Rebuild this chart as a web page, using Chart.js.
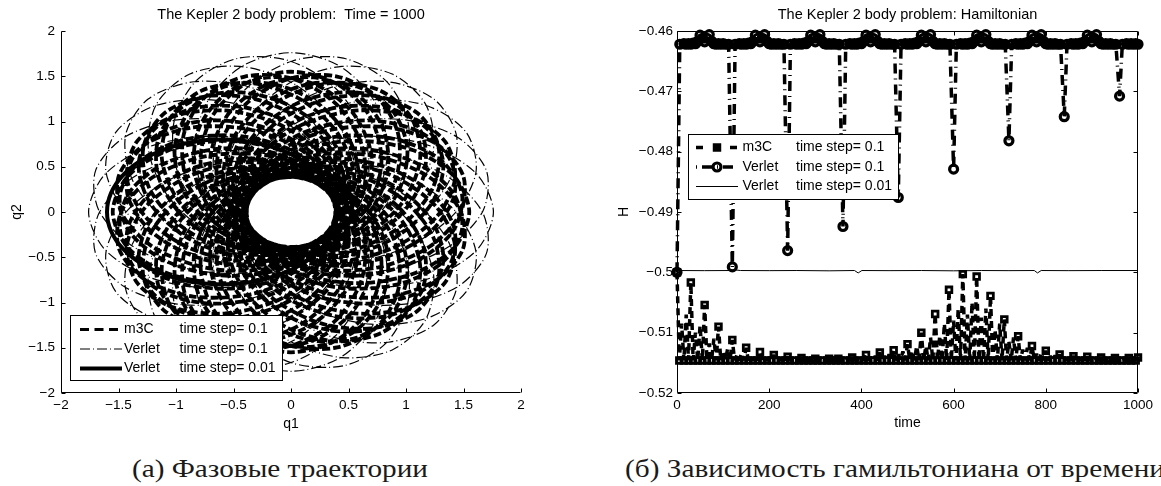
<!DOCTYPE html>
<html><head><meta charset="utf-8">
<script src="https://cdn.jsdelivr.net/npm/chart.js@4.4.1/dist/chart.umd.min.js"></script>
<style>
html,body{margin:0;padding:0;background:#fff;width:1161px;height:486px;overflow:hidden;}
#wrap{position:relative;width:1161px;height:486px;overflow:hidden;}
#cA{position:absolute;left:0;top:0;}
#cB{position:absolute;left:600px;top:0;}
.cap{position:absolute;top:456px;font-family:"Liberation Serif","Times New Roman",serif;font-size:25px;line-height:26px;white-space:nowrap;color:#1a1a1a;transform-origin:0 0;}
#capA{left:132px;}
#capB{left:625px;}
</style></head><body>
<div id="wrap">
<canvas id="cA" width="582" height="440" style="width:582px;height:440px"></canvas>
<canvas id="cB" width="615" height="440" style="width:615px;height:440px"></canvas>
<div class="cap" id="capA">(a) Фазовые траектории</div>
<div class="cap" id="capB">(б) Зависимость гамильтониана от времени</div>
</div>
<script>
// ---------- tick values / labels ----------
const qTicks = [-2,-1.5,-1,-0.5,0,0.5,1,1.5,2];
const qTickLabels = ['−2','−1.5','−1','−0.5','0','0.5','1','1.5','2'];
const timeTicks = [0,200,400,600,800,1000];
const timeTickLabels = ['0','200','400','600','800','1000'];
const hTicks = [-0.52,-0.51,-0.5,-0.49,-0.48,-0.47,-0.46];
const hTickLabels = ['−0.52','−0.51','−0.5','−0.49','−0.48','−0.47','−0.46'];

// ---------- legend texts ----------
const legendNames = ['m3C','Verlet','Verlet'];
const legendSteps = ['time step= 0.1','time step= 0.1','time step= 0.01'];

// ---------- left panel: phase trajectories (q1, q2) ----------
const verletFineOrbit = [
[0.400,0],[0.366,0.207],[0.266,0.400],[0.107,0.566],[-0.100,0.693],[-0.341,0.773],[-0.600,0.800],[-0.859,0.773],[-1.100,0.693],[-1.307,0.566],[-1.466,0.400],[-1.566,0.207],[-1.600,0],[-1.566,-0.207],[-1.466,-0.400],[-1.307,-0.566],[-1.100,-0.693],[-0.859,-0.773],[-0.600,-0.800],[-0.341,-0.773],[-0.100,-0.693],[0.107,-0.566],[0.266,-0.400],[0.366,-0.207],[0.400,0]
];
const m3cOrbit = [
[0.400,0],[0.269,0.394],[-0.088,0.682],[-0.575,0.787],[-1.063,0.682],[-1.419,0.394],[-1.550,0],[-1.419,-0.394],[-1.063,-0.682],[-0.575,-0.787],[-0.088,-0.682],[0.269,-0.394],[0.400,0],
[0.386,0.104],[0.158,0.450],[-0.262,0.636],[-0.759,0.611],[-1.203,0.384],[-1.473,0.013],[-1.497,-0.401],[-1.269,-0.748],[-0.850,-0.934],[-0.352,-0.909],[0.092,-0.682],[0.362,-0.311],[0.386,0.104],
[0.346,0.200],[0.036,0.476],[-0.417,0.547],[-0.891,0.394],[-1.262,0.059],[-1.426,-0.368],[-1.342,-0.775],[-1.032,-1.051],[-0.580,-1.122],[-0.105,-0.969],[0.265,-0.635],[0.430,-0.207],[0.346,0.200],
[0.283,0.283],[-0.088,0.469],[-0.544,0.420],[-0.963,0.150],[-1.234,-0.269],[-1.282,-0.725],[-1.096,-1.096],[-0.725,-1.282],[-0.269,-1.234],[0.150,-0.963],[0.420,-0.544],[0.469,-0.088],[0.283,0.283],
[0.200,0.346],[0.476,0.036],[0.547,-0.417],[0.394,-0.891],[0.059,-1.262],[-0.368,-1.426],[-0.775,-1.342],[-1.051,-1.032],[-1.122,-0.580],[-0.969,-0.105],[-0.635,0.265],[-0.207,0.430],[0.200,0.346],
[0.104,0.386],[0.450,0.158],[0.636,-0.262],[0.611,-0.759],[0.384,-1.203],[0.013,-1.473],[-0.401,-1.497],[-0.748,-1.269],[-0.934,-0.850],[-0.909,-0.352],[-0.682,0.092],[-0.311,0.362],[0.104,0.386],
[0,0.400],[-0.394,0.269],[-0.682,-0.088],[-0.787,-0.575],[-0.682,-1.063],[-0.394,-1.419],[0,-1.550],[0.394,-1.419],[0.682,-1.063],[0.787,-0.575],[0.682,-0.088],[0.394,0.269],[0,0.400],
[-0.104,0.386],[-0.450,0.158],[-0.636,-0.262],[-0.611,-0.759],[-0.384,-1.203],[-0.013,-1.473],[0.401,-1.497],[0.748,-1.269],[0.934,-0.850],[0.909,-0.352],[0.682,0.092],[0.311,0.362],[-0.104,0.386],
[-0.200,0.346],[-0.476,0.036],[-0.547,-0.417],[-0.394,-0.891],[-0.059,-1.262],[0.368,-1.426],[0.775,-1.342],[1.051,-1.032],[1.122,-0.580],[0.969,-0.105],[0.635,0.265],[0.207,0.430],[-0.200,0.346],
[-0.283,0.283],[-0.469,-0.088],[-0.420,-0.544],[-0.150,-0.963],[0.269,-1.234],[0.725,-1.282],[1.096,-1.096],[1.282,-0.725],[1.234,-0.269],[0.963,0.150],[0.544,0.420],[0.088,0.469],[-0.283,0.283],
[-0.346,0.200],[-0.036,0.476],[0.417,0.547],[0.891,0.394],[1.262,0.059],[1.426,-0.368],[1.342,-0.775],[1.032,-1.051],[0.580,-1.122],[0.105,-0.969],[-0.265,-0.635],[-0.430,-0.207],[-0.346,0.200],
[-0.386,0.104],[-0.158,0.450],[0.262,0.636],[0.759,0.611],[1.203,0.384],[1.473,0.013],[1.497,-0.401],[1.269,-0.748],[0.850,-0.934],[0.352,-0.909],[-0.092,-0.682],[-0.362,-0.311],[-0.386,0.104],
[-0.400,0],[-0.269,-0.394],[0.088,-0.682],[0.575,-0.787],[1.063,-0.682],[1.419,-0.394],[1.550,0],[1.419,0.394],[1.063,0.682],[0.575,0.787],[0.088,0.682],[-0.269,0.394],[-0.400,0],
[-0.386,-0.104],[-0.158,-0.450],[0.262,-0.636],[0.759,-0.611],[1.203,-0.384],[1.473,-0.013],[1.497,0.401],[1.269,0.748],[0.850,0.934],[0.352,0.909],[-0.092,0.682],[-0.362,0.311],[-0.386,-0.104],
[-0.346,-0.200],[-0.036,-0.476],[0.417,-0.547],[0.891,-0.394],[1.262,-0.059],[1.426,0.368],[1.342,0.775],[1.032,1.051],[0.580,1.122],[0.105,0.969],[-0.265,0.635],[-0.430,0.207],[-0.346,-0.200],
[-0.283,-0.283],[0.088,-0.469],[0.544,-0.420],[0.963,-0.150],[1.234,0.269],[1.282,0.725],[1.096,1.096],[0.725,1.282],[0.269,1.234],[-0.150,0.963],[-0.420,0.544],[-0.469,0.088],[-0.283,-0.283],
[-0.200,-0.346],[-0.476,-0.036],[-0.547,0.417],[-0.394,0.891],[-0.059,1.262],[0.368,1.426],[0.775,1.342],[1.051,1.032],[1.122,0.580],[0.969,0.105],[0.635,-0.265],[0.207,-0.430],[-0.200,-0.346],
[-0.104,-0.386],[-0.450,-0.158],[-0.636,0.262],[-0.611,0.759],[-0.384,1.203],[-0.013,1.473],[0.401,1.497],[0.748,1.269],[0.934,0.850],[0.909,0.352],[0.682,-0.092],[0.311,-0.362],[-0.104,-0.386],
[0,-0.400],[0.394,-0.269],[0.682,0.088],[0.787,0.575],[0.682,1.063],[0.394,1.419],[0,1.550],[-0.394,1.419],[-0.682,1.063],[-0.787,0.575],[-0.682,0.088],[-0.394,-0.269],[0,-0.400],
[0.104,-0.386],[0.450,-0.158],[0.636,0.262],[0.611,0.759],[0.384,1.203],[0.013,1.473],[-0.401,1.497],[-0.748,1.269],[-0.934,0.850],[-0.909,0.352],[-0.682,-0.092],[-0.311,-0.362],[0.104,-0.386],
[0.200,-0.346],[0.476,-0.036],[0.547,0.417],[0.394,0.891],[0.059,1.262],[-0.368,1.426],[-0.775,1.342],[-1.051,1.032],[-1.122,0.580],[-0.969,0.105],[-0.635,-0.265],[-0.207,-0.430],[0.200,-0.346],
[0.283,-0.283],[0.469,0.088],[0.420,0.544],[0.150,0.963],[-0.269,1.234],[-0.725,1.282],[-1.096,1.096],[-1.282,0.725],[-1.234,0.269],[-0.963,-0.150],[-0.544,-0.420],[-0.088,-0.469],[0.283,-0.283],
[0.346,-0.200],[0.036,-0.476],[-0.417,-0.547],[-0.891,-0.394],[-1.262,-0.059],[-1.426,0.368],[-1.342,0.775],[-1.032,1.051],[-0.580,1.122],[-0.105,0.969],[0.265,0.635],[0.430,0.207],[0.346,-0.200],
[0.386,-0.104],[0.158,-0.450],[-0.262,-0.636],[-0.759,-0.611],[-1.203,-0.384],[-1.473,-0.013],[-1.497,0.401],[-1.269,0.748],[-0.850,0.934],[-0.352,0.909],[0.092,0.682],[0.362,0.311],[0.386,-0.104],
[0.397,0.052],[0.220,0.419],[-0.162,0.656],[-0.647,0.697],[-1.104,0.532],[-1.412,0.205],[-1.487,-0.196],[-1.311,-0.563],[-0.929,-0.799],[-0.444,-0.840],[0.013,-0.675],[0.321,-0.348],[0.397,0.052],
[0.370,0.153],[0.104,0.462],[-0.326,0.591],[-0.805,0.506],[-1.204,0.228],[-1.417,-0.168],[-1.386,-0.574],[-1.120,-0.883],[-0.690,-1.012],[-0.212,-0.927],[0.188,-0.649],[0.400,-0.253],[0.370,0.153],
[0.317,0.244],[-0.019,0.473],[-0.468,0.487],[-0.908,0.280],[-1.222,-0.092],[-1.325,-0.529],[-1.190,-0.913],[-0.854,-1.143],[-0.405,-1.156],[0.036,-0.950],[0.349,-0.578],[0.452,-0.141],[0.317,0.244],
[0.244,0.317],[0.473,-0.019],[0.487,-0.468],[0.280,-0.908],[-0.092,-1.222],[-0.529,-1.325],[-0.913,-1.190],[-1.143,-0.854],[-1.156,-0.405],[-0.950,0.036],[-0.578,0.349],[-0.141,0.452],[0.244,0.317],
[0.153,0.370],[0.462,0.104],[0.591,-0.326],[0.506,-0.805],[0.228,-1.204],[-0.168,-1.417],[-0.574,-1.386],[-0.883,-1.120],[-1.012,-0.690],[-0.927,-0.212],[-0.649,0.188],[-0.253,0.400],[0.153,0.370],
[0.052,0.397],[0.419,0.220],[0.656,-0.162],[0.697,-0.647],[0.532,-1.104],[0.205,-1.412],[-0.196,-1.487],[-0.563,-1.311],[-0.799,-0.929],[-0.840,-0.444],[-0.675,0.013],[-0.348,0.321],[0.052,0.397],
[-0.052,0.397],[-0.419,0.220],[-0.656,-0.162],[-0.697,-0.647],[-0.532,-1.104],[-0.205,-1.412],[0.196,-1.487],[0.563,-1.311],[0.799,-0.929],[0.840,-0.444],[0.675,0.013],[0.348,0.321],[-0.052,0.397],
[-0.153,0.370],[-0.462,0.104],[-0.591,-0.326],[-0.506,-0.805],[-0.228,-1.204],[0.168,-1.417],[0.574,-1.386],[0.883,-1.120],[1.012,-0.690],[0.927,-0.212],[0.649,0.188],[0.253,0.400],[-0.153,0.370],
[-0.244,0.317],[-0.473,-0.019],[-0.487,-0.468],[-0.280,-0.908],[0.092,-1.222],[0.529,-1.325],[0.913,-1.190],[1.143,-0.854],[1.156,-0.405],[0.950,0.036],[0.578,0.349],[0.141,0.452],[-0.244,0.317],
[-0.317,0.244],[0.019,0.473],[0.468,0.487],[0.908,0.280],[1.222,-0.092],[1.325,-0.529],[1.190,-0.913],[0.854,-1.143],[0.405,-1.156],[-0.036,-0.950],[-0.349,-0.578],[-0.452,-0.141],[-0.317,0.244],
[-0.370,0.153],[-0.104,0.462],[0.326,0.591],[0.805,0.506],[1.204,0.228],[1.417,-0.168],[1.386,-0.574],[1.120,-0.883],[0.690,-1.012],[0.212,-0.927],[-0.188,-0.649],[-0.400,-0.253],[-0.370,0.153],
[-0.397,0.052],[-0.220,0.419],[0.162,0.656],[0.647,0.697],[1.104,0.532],[1.412,0.205],[1.487,-0.196],[1.311,-0.563],[0.929,-0.799],[0.444,-0.840],[-0.013,-0.675],[-0.321,-0.348],[-0.397,0.052],
[-0.397,-0.052],[-0.220,-0.419],[0.162,-0.656],[0.647,-0.697],[1.104,-0.532],[1.412,-0.205],[1.487,0.196],[1.311,0.563],[0.929,0.799],[0.444,0.840],[-0.013,0.675],[-0.321,0.348],[-0.397,-0.052],
[-0.370,-0.153],[-0.104,-0.462],[0.326,-0.591],[0.805,-0.506],[1.204,-0.228],[1.417,0.168],[1.386,0.574],[1.120,0.883],[0.690,1.012],[0.212,0.927],[-0.188,0.649],[-0.400,0.253],[-0.370,-0.153],
[-0.317,-0.244],[0.019,-0.473],[0.468,-0.487],[0.908,-0.280],[1.222,0.092],[1.325,0.529],[1.190,0.913],[0.854,1.143],[0.405,1.156],[-0.036,0.950],[-0.349,0.578],[-0.452,0.141],[-0.317,-0.244],
[-0.244,-0.317],[-0.473,0.019],[-0.487,0.468],[-0.280,0.908],[0.092,1.222],[0.529,1.325],[0.913,1.190],[1.143,0.854],[1.156,0.405],[0.950,-0.036],[0.578,-0.349],[0.141,-0.452],[-0.244,-0.317],
[-0.153,-0.370],[-0.462,-0.104],[-0.591,0.326],[-0.506,0.805],[-0.228,1.204],[0.168,1.417],[0.574,1.386],[0.883,1.120],[1.012,0.690],[0.927,0.212],[0.649,-0.188],[0.253,-0.400],[-0.153,-0.370],
[-0.052,-0.397],[-0.419,-0.220],[-0.656,0.162],[-0.697,0.647],[-0.532,1.104],[-0.205,1.412],[0.196,1.487],[0.563,1.311],[0.799,0.929],[0.840,0.444],[0.675,-0.013],[0.348,-0.321],[-0.052,-0.397],
[0.052,-0.397],[0.419,-0.220],[0.656,0.162],[0.697,0.647],[0.532,1.104],[0.205,1.412],[-0.196,1.487],[-0.563,1.311],[-0.799,0.929],[-0.840,0.444],[-0.675,-0.013],[-0.348,-0.321],[0.052,-0.397],
[0.153,-0.370],[0.462,-0.104],[0.591,0.326],[0.506,0.805],[0.228,1.204],[-0.168,1.417],[-0.574,1.386],[-0.883,1.120],[-1.012,0.690],[-0.927,0.212],[-0.649,-0.188],[-0.253,-0.400],[0.153,-0.370],
[0.244,-0.317],[0.473,0.019],[0.487,0.468],[0.280,0.908],[-0.092,1.222],[-0.529,1.325],[-0.913,1.190],[-1.143,0.854],[-1.156,0.405],[-0.950,-0.036],[-0.578,-0.349],[-0.141,-0.452],[0.244,-0.317],
[0.317,-0.244],[-0.019,-0.473],[-0.468,-0.487],[-0.908,-0.280],[-1.222,0.092],[-1.325,0.529],[-1.190,0.913],[-0.854,1.143],[-0.405,1.156],[0.036,0.950],[0.349,0.578],[0.452,0.141],[0.317,-0.244],
[0.370,-0.153],[0.104,-0.462],[-0.326,-0.591],[-0.805,-0.506],[-1.204,-0.228],[-1.417,0.168],[-1.386,0.574],[-1.120,0.883],[-0.690,1.012],[-0.212,0.927],[0.188,0.649],[0.400,0.253],[0.370,-0.153],
[0.397,-0.052],[0.220,-0.419],[-0.162,-0.656],[-0.647,-0.697],[-1.104,-0.532],[-1.412,-0.205],[-1.487,0.196],[-1.311,0.563],[-0.929,0.799],[-0.444,0.840],[0.013,0.675],[0.321,0.348],[0.397,-0.052]
];
const verletOrbit = [
[0.386,0.104],[0.138,0.472],[-0.323,0.666],[-0.874,0.634],[-1.367,0.387],[-1.669,-0.012],[-1.700,-0.455],[-1.451,-0.824],[-0.990,-1.018],[-0.440,-0.986],[0.053,-0.738],[0.355,-0.340],[0.386,0.104],
[0.283,0.283],[-0.117,0.477],[-0.613,0.415],[-1.074,0.112],[-1.377,-0.349],[-1.439,-0.845],[-1.245,-1.245],[-0.845,-1.439],[-0.349,-1.377],[0.112,-1.074],[0.415,-0.613],[0.477,-0.117],[0.283,0.283],
[0.104,0.386],[0.472,0.138],[0.666,-0.323],[0.634,-0.874],[0.387,-1.367],[-0.012,-1.669],[-0.455,-1.700],[-0.824,-1.451],[-1.018,-0.990],[-0.986,-0.440],[-0.738,0.053],[-0.340,0.355],[0.104,0.386],
[-0.104,0.386],[-0.472,0.138],[-0.666,-0.323],[-0.634,-0.874],[-0.387,-1.367],[0.012,-1.669],[0.455,-1.700],[0.824,-1.451],[1.018,-0.990],[0.986,-0.440],[0.738,0.053],[0.340,0.355],[-0.104,0.386],
[-0.283,0.283],[-0.477,-0.117],[-0.415,-0.613],[-0.112,-1.074],[0.349,-1.377],[0.845,-1.439],[1.245,-1.245],[1.439,-0.845],[1.377,-0.349],[1.074,0.112],[0.613,0.415],[0.117,0.477],[-0.283,0.283],
[-0.386,0.104],[-0.138,0.472],[0.323,0.666],[0.874,0.634],[1.367,0.387],[1.669,-0.012],[1.700,-0.455],[1.451,-0.824],[0.990,-1.018],[0.440,-0.986],[-0.053,-0.738],[-0.355,-0.340],[-0.386,0.104],
[-0.386,-0.104],[-0.138,-0.472],[0.323,-0.666],[0.874,-0.634],[1.367,-0.387],[1.669,0.012],[1.700,0.455],[1.451,0.824],[0.990,1.018],[0.440,0.986],[-0.053,0.738],[-0.355,0.340],[-0.386,-0.104],
[-0.283,-0.283],[0.117,-0.477],[0.613,-0.415],[1.074,-0.112],[1.377,0.349],[1.439,0.845],[1.245,1.245],[0.845,1.439],[0.349,1.377],[-0.112,1.074],[-0.415,0.613],[-0.477,0.117],[-0.283,-0.283],
[-0.104,-0.386],[-0.472,-0.138],[-0.666,0.323],[-0.634,0.874],[-0.387,1.367],[0.012,1.669],[0.455,1.700],[0.824,1.451],[1.018,0.990],[0.986,0.440],[0.738,-0.053],[0.340,-0.355],[-0.104,-0.386],
[0.104,-0.386],[0.472,-0.138],[0.666,0.323],[0.634,0.874],[0.387,1.367],[-0.012,1.669],[-0.455,1.700],[-0.824,1.451],[-1.018,0.990],[-0.986,0.440],[-0.738,-0.053],[-0.340,-0.355],[0.104,-0.386],
[0.283,-0.283],[0.477,0.117],[0.415,0.613],[0.112,1.074],[-0.349,1.377],[-0.845,1.439],[-1.245,1.245],[-1.439,0.845],[-1.377,0.349],[-1.074,-0.112],[-0.613,-0.415],[-0.117,-0.477],[0.283,-0.283],
[0.386,-0.104],[0.138,-0.472],[-0.323,-0.666],[-0.874,-0.634],[-1.367,-0.387],[-1.669,0.012],[-1.700,0.455],[-1.451,0.824],[-0.990,1.018],[-0.440,0.986],[0.053,0.738],[0.355,0.340],[0.386,-0.104],
[0.400,0],[0.255,0.420],[-0.140,0.727],[-0.680,0.839],[-1.220,0.727],[-1.615,0.420],[-1.760,0],[-1.615,-0.420],[-1.220,-0.727],[-0.680,-0.839],[-0.140,-0.727],[0.255,-0.420],[0.400,0],
[0.346,0.200],[0.011,0.491],[-0.485,0.560],[-1.008,0.387],[-1.420,0.020],[-1.609,-0.444],[-1.524,-0.880],[-1.189,-1.171],[-0.693,-1.240],[-0.169,-1.067],[0.242,-0.700],[0.431,-0.236],[0.346,0.200],
[0.200,0.346],[0.491,0.011],[0.560,-0.485],[0.387,-1.008],[0.020,-1.420],[-0.444,-1.609],[-0.880,-1.524],[-1.171,-1.189],[-1.240,-0.693],[-1.067,-0.169],[-0.700,0.242],[-0.236,0.431],[0.200,0.346],
[0,0.400],[-0.420,0.255],[-0.727,-0.140],[-0.839,-0.680],[-0.727,-1.220],[-0.420,-1.615],[0,-1.760],[0.420,-1.615],[0.727,-1.220],[0.839,-0.680],[0.727,-0.140],[0.420,0.255],[0,0.400],
[-0.200,0.346],[-0.491,0.011],[-0.560,-0.485],[-0.387,-1.008],[-0.020,-1.420],[0.444,-1.609],[0.880,-1.524],[1.171,-1.189],[1.240,-0.693],[1.067,-0.169],[0.700,0.242],[0.236,0.431],[-0.200,0.346],
[-0.346,0.200],[-0.011,0.491],[0.485,0.560],[1.008,0.387],[1.420,0.020],[1.609,-0.444],[1.524,-0.880],[1.189,-1.171],[0.693,-1.240],[0.169,-1.067],[-0.242,-0.700],[-0.431,-0.236],[-0.346,0.200],
[-0.400,0],[-0.255,-0.420],[0.140,-0.727],[0.680,-0.839],[1.220,-0.727],[1.615,-0.420],[1.760,0],[1.615,0.420],[1.220,0.727],[0.680,0.839],[0.140,0.727],[-0.255,0.420],[-0.400,0],
[-0.346,-0.200],[-0.011,-0.491],[0.485,-0.560],[1.008,-0.387],[1.420,-0.020],[1.609,0.444],[1.524,0.880],[1.189,1.171],[0.693,1.240],[0.169,1.067],[-0.242,0.700],[-0.431,0.236],[-0.346,-0.200],
[-0.200,-0.346],[-0.491,-0.011],[-0.560,0.485],[-0.387,1.008],[-0.020,1.420],[0.444,1.609],[0.880,1.524],[1.171,1.189],[1.240,0.693],[1.067,0.169],[0.700,-0.242],[0.236,-0.431],[-0.200,-0.346],
[0,-0.400],[0.420,-0.255],[0.727,0.140],[0.839,0.680],[0.727,1.220],[0.420,1.615],[0,1.760],[-0.420,1.615],[-0.727,1.220],[-0.839,0.680],[-0.727,0.140],[-0.420,-0.255],[0,-0.400],
[0.200,-0.346],[0.491,-0.011],[0.560,0.485],[0.387,1.008],[0.020,1.420],[-0.444,1.609],[-0.880,1.524],[-1.171,1.189],[-1.240,0.693],[-1.067,0.169],[-0.700,-0.242],[-0.236,-0.431],[0.200,-0.346],
[0.346,-0.200],[0.011,-0.491],[-0.485,-0.560],[-1.008,-0.387],[-1.420,-0.020],[-1.609,0.444],[-1.524,0.880],[-1.189,1.171],[-0.693,1.240],[-0.169,1.067],[0.242,0.700],[0.431,0.236],[0.346,-0.200]
];

// ---------- right panel: Hamiltonian vs time ----------
const m3cTime = [
0,5,10,15,20,25,30,35,40,45,50,55,60,65,70,75,80,85,90,95,
100,105,110,115,120,125,130,135,140,145,150,155,160,165,170,175,180,185,190,195,
200,205,210,215,220,225,230,235,240,245,250,255,260,265,270,275,280,285,290,295,
300,305,310,315,320,325,330,335,340,345,350,355,360,365,370,375,380,385,390,395,
400,405,410,415,420,425,430,435,440,445,450,455,460,465,470,475,480,485,490,495,
500,505,510,515,520,525,530,535,540,545,550,555,560,565,570,575,580,585,590,595,
600,605,610,615,620,625,630,635,640,645,650,655,660,665,670,675,680,685,690,695,
700,705,710,715,720,725,730,735,740,745,750,755,760,765,770,775,780,785,790,795,
800,805,810,815,820,825,830,835,840,845,850,855,860,865,870,875,880,885,890,895,
900,905,910,915,920,925,930,935,940,945,950,955,960,965,970,975,980,985,990,995,
1000];
const m3cH = [
-0.5000,-0.5146,-0.5085,-0.5146,-0.5070,-0.5146,-0.5017,-0.5146,-0.5100,-0.5146,-0.5088,-0.5146,-0.5054,-0.5146,-0.5118,-0.5146,-0.5110,-0.5146,-0.5090,-0.5146,
-0.5130,-0.5146,-0.5126,-0.5146,-0.5112,-0.5146,-0.5137,-0.5146,-0.5134,-0.5146,-0.5125,-0.5146,-0.5140,-0.5146,-0.5138,-0.5146,-0.5132,-0.5146,-0.5142,-0.5146,
-0.5141,-0.5146,-0.5137,-0.5146,-0.5143,-0.5146,-0.5143,-0.5146,-0.5140,-0.5146,-0.5144,-0.5146,-0.5144,-0.5146,-0.5142,-0.5146,-0.5144,-0.5146,-0.5144,-0.5146,
-0.5143,-0.5146,-0.5144,-0.5146,-0.5144,-0.5146,-0.5143,-0.5146,-0.5144,-0.5146,-0.5143,-0.5146,-0.5144,-0.5146,-0.5143,-0.5146,-0.5141,-0.5146,-0.5143,-0.5146,
-0.5142,-0.5146,-0.5137,-0.5146,-0.5141,-0.5146,-0.5139,-0.5146,-0.5133,-0.5146,-0.5139,-0.5146,-0.5136,-0.5146,-0.5129,-0.5146,-0.5136,-0.5146,-0.5131,-0.5146,
-0.5119,-0.5146,-0.5130,-0.5146,-0.5122,-0.5146,-0.5100,-0.5146,-0.5122,-0.5146,-0.5108,-0.5146,-0.5069,-0.5146,-0.5105,-0.5146,-0.5085,-0.5146,-0.5029,-0.5146,
-0.5080,-0.5146,-0.5060,-0.5146,-0.5003,-0.5146,-0.5070,-0.5146,-0.5050,-0.5146,-0.5007,-0.5146,-0.5075,-0.5146,-0.5060,-0.5146,-0.5039,-0.5146,-0.5095,-0.5146,
-0.5085,-0.5146,-0.5078,-0.5146,-0.5115,-0.5146,-0.5108,-0.5146,-0.5106,-0.5146,-0.5128,-0.5146,-0.5125,-0.5146,-0.5122,-0.5146,-0.5135,-0.5146,-0.5133,-0.5146,
-0.5130,-0.5146,-0.5139,-0.5146,-0.5138,-0.5146,-0.5136,-0.5146,-0.5142,-0.5146,-0.5141,-0.5146,-0.5139,-0.5146,-0.5143,-0.5146,-0.5143,-0.5146,-0.5140,-0.5146,
-0.5144,-0.5146,-0.5143,-0.5146,-0.5141,-0.5146,-0.5144,-0.5146,-0.5144,-0.5146,-0.5142,-0.5146,-0.5144,-0.5146,-0.5144,-0.5146,-0.5142,-0.5146,-0.5144,-0.5146,
-0.5141];
const m3cMarkTimes = [0,30,60,90,120,150,180,210,240,270,300,330,350,380,410,440,470,500,530,560,590,620,650,680,710,740,770,800,830,860,890,920,950,980,1000];

const verletTime = [
0,6,15,20,25,30,35,40,45,50,55,60,65,70,75,80,85,90,95,100,105,112,
120,126,135,140,145,150,155,160,165,170,175,180,185,190,195,200,205,210,215,220,225,232,
240,246,255,260,265,270,275,280,285,290,295,300,305,310,315,320,325,330,335,340,345,352,
360,366,375,380,385,390,395,400,405,410,415,420,425,430,435,440,445,450,455,460,465,472,
480,486,495,500,505,510,515,520,525,530,535,540,545,550,555,560,565,570,575,580,585,592,
600,606,615,620,625,630,635,640,645,650,655,660,665,670,675,680,685,690,695,700,705,712,
720,726,735,740,745,750,755,760,765,770,775,780,785,790,795,800,805,810,815,820,825,832,
840,846,855,860,865,870,875,880,885,890,895,900,905,910,915,920,925,930,935,940,945,952,
960,966,975,980,985,990,995,1000];
const verletH = [
-0.5000,-0.4622,-0.4621,-0.4622,-0.4621,-0.4622,-0.4620,-0.4621,-0.4617,-0.4607,-0.4612,-0.4618,-0.4612,-0.4606,-0.4617,-0.4621,-0.4622,-0.4621,-0.4622,-0.4621,-0.4622,-0.4622,
-0.4991,-0.4622,-0.4621,-0.4622,-0.4621,-0.4622,-0.4620,-0.4621,-0.4617,-0.4607,-0.4612,-0.4618,-0.4612,-0.4606,-0.4617,-0.4621,-0.4622,-0.4621,-0.4622,-0.4621,-0.4622,-0.4622,
-0.4964,-0.4622,-0.4621,-0.4622,-0.4621,-0.4622,-0.4620,-0.4621,-0.4617,-0.4607,-0.4612,-0.4618,-0.4612,-0.4606,-0.4617,-0.4621,-0.4622,-0.4621,-0.4622,-0.4621,-0.4622,-0.4622,
-0.4924,-0.4622,-0.4621,-0.4622,-0.4621,-0.4622,-0.4620,-0.4621,-0.4617,-0.4607,-0.4612,-0.4618,-0.4612,-0.4606,-0.4617,-0.4621,-0.4622,-0.4621,-0.4622,-0.4621,-0.4622,-0.4622,
-0.4876,-0.4622,-0.4621,-0.4622,-0.4621,-0.4622,-0.4620,-0.4621,-0.4617,-0.4607,-0.4612,-0.4618,-0.4612,-0.4606,-0.4617,-0.4621,-0.4622,-0.4621,-0.4622,-0.4621,-0.4622,-0.4622,
-0.4829,-0.4622,-0.4621,-0.4622,-0.4621,-0.4622,-0.4620,-0.4621,-0.4617,-0.4607,-0.4612,-0.4618,-0.4612,-0.4606,-0.4617,-0.4621,-0.4622,-0.4621,-0.4622,-0.4621,-0.4622,-0.4622,
-0.4782,-0.4622,-0.4621,-0.4622,-0.4621,-0.4622,-0.4620,-0.4621,-0.4617,-0.4607,-0.4612,-0.4618,-0.4612,-0.4606,-0.4617,-0.4621,-0.4622,-0.4621,-0.4622,-0.4621,-0.4622,-0.4622,
-0.4742,-0.4622,-0.4621,-0.4622,-0.4621,-0.4622,-0.4620,-0.4621,-0.4617,-0.4607,-0.4612,-0.4618,-0.4612,-0.4606,-0.4617,-0.4621,-0.4622,-0.4621,-0.4622,-0.4621,-0.4622,-0.4622,
-0.4708,-0.4622,-0.4621,-0.4622,-0.4621,-0.4622,-0.4621,-0.4622];

const fineTime = [0,60,115,126,138,200,260,330,385,393,401,460,530,600,660,720,775,782,790,850,920,1000];
const fineH = [-0.4997,-0.49972,-0.4997,-0.4996,-0.4997,-0.49972,-0.4997,-0.49975,-0.4997,-0.5001,-0.4997,-0.49972,-0.4997,-0.49975,-0.4997,-0.49972,-0.4997,-0.5001,-0.4997,-0.49972,-0.4997,-0.4997];

// ---------- shared style ----------
const SANS = "'Liberation Sans', Arial, Helvetica, sans-serif";
Chart.defaults.font.family = SANS;
Chart.defaults.font.size = 13.5;
Chart.defaults.color = '#000';
const NOFILL = 'rgba(255,255,255,0)';

function framePlugin(box, len) {
  return {
    id: 'frame',
    beforeDatasetsDraw(chart) {
      const ctx = chart.ctx, a = chart.chartArea, xs = chart.scales.x, ys = chart.scales.y;
      const L = Math.round(a.left) + 0.5, R = Math.round(a.right) - 0.5;
      const T = Math.round(a.top) + 0.5, B = Math.round(a.bottom) - 0.5;
      ctx.save();
      ctx.strokeStyle = '#000'; ctx.lineWidth = 1; ctx.setLineDash([]);
      ctx.beginPath();
      ctx.moveTo(L, T); ctx.lineTo(L, B); ctx.lineTo(R, B);
      if (box) { ctx.lineTo(R, T); ctx.lineTo(L, T); }
      xs.ticks.forEach(t => {
        const p = Math.round(xs.getPixelForValue(t.value)) + 0.5;
        ctx.moveTo(p, B); ctx.lineTo(p, B - len);
        if (box) { ctx.moveTo(p, T); ctx.lineTo(p, T + len); }
      });
      ys.ticks.forEach(t => {
        const p = Math.round(ys.getPixelForValue(t.value)) + 0.5;
        ctx.moveTo(L, p); ctx.lineTo(L + len, p);
        if (box) { ctx.moveTo(R, p); ctx.lineTo(R - len, p); }
      });
      ctx.stroke();
      ctx.restore();
    }
  };
}

function legendPlugin(cfg) {
  return {
    id: 'boxLegend',
    afterDatasetsDraw(chart) {
      const ctx = chart.ctx;
      ctx.save();
      ctx.setLineDash([]);
      ctx.fillStyle = '#fff';
      ctx.fillRect(cfg.x, cfg.y, cfg.w, cfg.h);
      ctx.strokeStyle = '#000'; ctx.lineWidth = 1;
      ctx.strokeRect(cfg.x + 0.5, cfg.y + 0.5, cfg.w, cfg.h);
      cfg.items.forEach((it, i) => {
        const ds = chart.data.datasets[it.ds];
        const yy = cfg.rows[i];
        ctx.save();
        ctx.beginPath();
        ctx.strokeStyle = '#000';
        ctx.lineWidth = it.width || ds.borderWidth;
        ctx.lineCap = 'butt';
        ctx.setLineDash(it.dash || ds.borderDash || []);
        ctx.lineDashOffset = it.dashOffset || 0;
        ctx.moveTo(cfg.lineX0, yy); ctx.lineTo(cfg.lineX1, yy);
        ctx.stroke();
        ctx.restore();
        if (it.marker) {
          const cx = (cfg.lineX0 + cfg.lineX1) / 2;
          ctx.save();
          ctx.setLineDash([]);
          ctx.strokeStyle = '#000';
          ctx.lineWidth = ds.pointBorderWidth;
          ctx.beginPath();
          if (ds.pointStyle === 'rect') {
            const s = it.marker * Math.SQRT1_2;
            ctx.rect(cx - s, yy - s, 2 * s, 2 * s);
          } else {
            ctx.arc(cx, yy, it.marker, 0, Math.PI * 2);
          }
          ctx.stroke();
          ctx.restore();
        }
        ctx.fillStyle = '#000';
        ctx.font = '14px ' + SANS;
        ctx.textBaseline = 'middle'; ctx.textAlign = 'left';
        ctx.fillText(legendNames[i], cfg.nameX, yy);
        ctx.fillText(legendSteps[i], cfg.stepX, yy);
      });
      ctx.restore();
    }
  };
}

function axisX(ticks, labels, title, height, min, max, titlePadBottom) {
  return {
    type: 'linear', min: min, max: max,
    afterBuildTicks: s => { s.ticks = ticks.map(v => ({ value: v })); },
    afterFit: s => { s.height = height; },
    ticks: { callback: (v, i) => labels[i], padding: 4, maxRotation: 0, autoSkip: false, color: '#000', font: { size: 13.5 } },
    grid: { display: false, drawTicks: false },
    border: { display: false },
    title: { display: true, text: title, color: '#000', font: { size: 14 }, padding: { top: 0, bottom: titlePadBottom } }
  };
}
function axisY(ticks, labels, title, width, min, max, titlePadTop, tickPad) {
  return {
    type: 'linear', min: min, max: max,
    afterBuildTicks: s => { s.ticks = ticks.map(v => ({ value: v })); },
    afterFit: s => { s.width = width; },
    ticks: { callback: (v, i) => labels[i], padding: tickPad, autoSkip: false, color: '#000', font: { size: 13.5 } },
    grid: { display: false, drawTicks: false },
    border: { display: false },
    title: { display: true, text: title, color: '#000', font: { size: 14 }, padding: { top: titlePadTop, bottom: 0 } }
  };
}
const titleOpts = text => ({ display: true, fullSize: false, text: text, color: '#000', font: { size: 14.5, weight: 'normal' }, padding: { top: 6.3, bottom: 7.3 } });

// ---------- left chart ----------
new Chart(document.getElementById('cA'), {
  type: 'scatter',
  data: {
    datasets: [
      { label: 'Verlet time step= 0.01', data: verletFineOrbit, showLine: true, borderColor: '#000', borderWidth: 4, pointRadius: 0, tension: 0.35, borderJoinStyle: 'round', clip: false },
      { label: 'Verlet time step= 0.1', data: verletOrbit, showLine: true, borderColor: '#000', borderWidth: 1.2, borderDash: [10, 3, 1, 3], pointRadius: 0, tension: 0.3, borderJoinStyle: 'bevel', clip: false },
      { label: 'm3C time step= 0.1', data: m3cOrbit, showLine: true, borderColor: '#000', borderWidth: 3.8, borderDash: [8, 3], pointRadius: 0, tension: 0.3, borderJoinStyle: 'bevel', clip: false }
    ]
  },
  options: {
    responsive: false, animation: false, events: [],
    layout: { padding: { left: 0, right: 61, top: 0, bottom: 0 } },
    plugins: { legend: { display: false }, tooltip: { enabled: false }, title: titleOpts('The Kepler 2 body problem:  Time = 1000') },
    scales: {
      x: axisX(qTicks, qTickLabels, 'q1', 47, -2, 2, 7.6),
      y: axisY(qTicks, qTickLabels, 'q2', 61, -2, 2, 8.3, 6)
    }
  },
  plugins: [framePlugin(false, 4), legendPlugin({
    x: 70, y: 315, w: 212, h: 65, rows: [329.5, 349, 368.5], lineX0: 80, lineX1: 122, nameX: 124, stepX: 179.5,
    items: [{ ds: 2, dash: [9, 5.5], width: 3.2 }, { ds: 1, width: 1 }, { ds: 0 }]
  })]
});

// ---------- right chart ----------
new Chart(document.getElementById('cB'), {
  type: 'scatter',
  data: {
    datasets: [
      { label: 'Verlet time step= 0.01', data: fineTime.map((t, i) => ({ x: t, y: fineH[i] })), showLine: true, borderColor: '#000', borderWidth: 1, pointRadius: 0, tension: 0, clip: false },
      { label: 'Verlet time step= 0.1', data: verletTime.map((t, i) => ({ x: t, y: verletH[i] })), showLine: true, borderColor: '#000', borderWidth: 3.5, borderDash: [10, 5, 1, 5], borderJoinStyle: 'bevel',
        pointStyle: 'circle', pointRadius: 4, pointBorderWidth: 3.2, pointBackgroundColor: NOFILL, pointBorderColor: '#000', tension: 0, clip: false },
      { label: 'm3C time step= 0.1', data: m3cTime.map((t, i) => ({ x: t, y: m3cH[i] })), showLine: true, borderColor: '#000', borderWidth: 3.5, borderDash: [7, 5], borderJoinStyle: 'bevel',
        pointStyle: 'rect',
        pointRadius: c => { const t = m3cTime[c.dataIndex]; if (t % 10 === 5) return 4; return m3cMarkTimes.includes(t) ? 4 : 0; },
        pointBorderWidth: 2.8, pointBackgroundColor: NOFILL, pointBorderColor: '#000', tension: 0, clip: false }
    ]
  },
  options: {
    responsive: false, animation: false, events: [],
    layout: { padding: { left: 0, right: 77, top: 0, bottom: 0 } },
    plugins: { legend: { display: false }, tooltip: { enabled: false }, title: titleOpts('The Kepler 2 body problem: Hamiltonian') },
    scales: {
      x: axisX(timeTicks, timeTickLabels, 'time', 47, 0, 1000, 8.6),
      y: axisY(hTicks, hTickLabels, 'H', 77, -0.52, -0.46, 15.6, 4)
    }
  },
  plugins: [framePlugin(true, 4), legendPlugin({
    x: 88, y: 134, w: 210, h: 65, rows: [147.5, 167, 186.5], lineX0: 96, lineX1: 138, nameX: 142.5, stepX: 196,
    items: [{ ds: 2, marker: 4, dash: [7, 10] }, { ds: 1, marker: 4, dash: [1, 5, 10, 5] }, { ds: 0 }]
  })]
});

// ---------- captions: fit widths ----------
[['capA', 296], ['capB', 540]].forEach(([id, w]) => {
  const el = document.getElementById(id);
  const nat = el.getBoundingClientRect().width;
  if (nat > 0) el.style.transform = 'scaleX(' + (w / nat) + ')';
});
</script>
</body></html>
